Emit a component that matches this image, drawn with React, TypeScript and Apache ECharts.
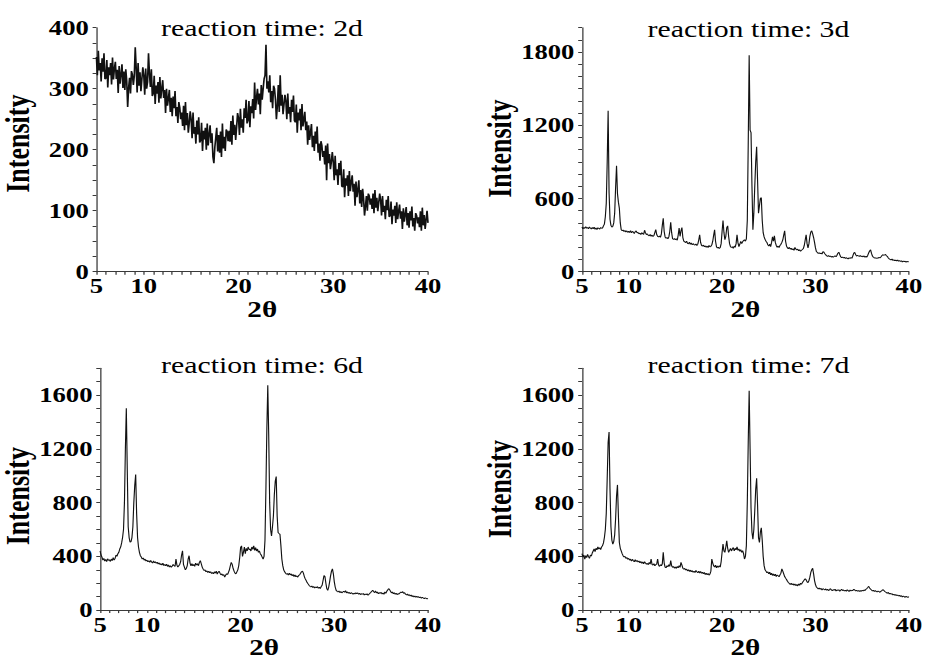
import { useEffect, useRef } from "react";
import * as echarts from "echarts";

// Every pattern is sampled from 2θ = 5.0° to 40.0° in 0.1° steps.
const THETA_START = 5;
const THETA_STEP = 0.1;

const TITLES = ["reaction time: 2d", "reaction time: 3d", "reaction time: 6d", "reaction time: 7d"];
const X_LABELS = [5, 10, 20, 30, 40];
const Y_LABELS = [
  [0, 100, 200, 300, 400],
  [0, 600, 1200, 1800],
  [0, 400, 800, 1200, 1600],
  [0, 400, 800, 1200, 1600],
];
const Y_MAX = [400, 2000, 1800, 1800];
const Y_MINOR_STEP = [25, 100, 100, 100];

// reaction time 2d: amorphous hump with heavy counting noise
const XRD_2D = [
  352, 322, 362, 330, 342, 312, 350, 328, 358, 316,
  317, 347, 302, 335, 322, 342, 307, 351, 315, 333,
  344, 316, 331, 293, 337, 308, 324, 340, 301, 328,
  298, 332, 313, 270, 301, 318, 292, 329, 323, 306,
  321, 368, 334, 294, 342, 305, 327, 296, 316, 335,
  322, 290, 333, 300, 311, 358, 324, 303, 332, 288,
  292, 321, 275, 305, 292, 311, 277, 319, 284, 300,
  314, 285, 298, 260, 300, 272, 284, 298, 262, 285,
  255, 287, 268, 296, 255, 270, 244, 278, 269, 250,
  261, 239, 272, 232, 278, 240, 260, 228, 244, 263,
  250, 219, 261, 226, 237, 210, 248, 225, 253, 212,
  215, 244, 198, 231, 217, 236, 200, 243, 207, 225,
  240, 211, 227, 188, 178, 204, 220, 236, 197, 224,
  195, 230, 188, 243, 202, 221, 198, 233, 230, 214,
  231, 213, 247, 208, 256, 224, 241, 216, 237, 260,
  252, 224, 267, 236, 250, 228, 268, 252, 282, 243,
  248, 280, 237, 271, 260, 283, 251, 310, 265, 285,
  300, 274, 292, 258, 306, 282, 300, 316, 322, 372,
  300, 312, 294, 322, 278, 296, 268, 305, 300, 282,
  250, 272, 306, 262, 322, 272, 290, 258, 274, 290,
  280, 250, 292, 259, 270, 245, 282, 262, 289, 248,
  245, 274, 228, 261, 248, 267, 232, 275, 238, 250,
  262, 232, 246, 208, 240, 216, 228, 242, 204, 223,
  198, 230, 210, 238, 195, 210, 182, 214, 207, 188,
  198, 176, 207, 150, 210, 178, 193, 168, 180, 196,
  180, 150, 190, 158, 168, 142, 178, 158, 182, 140,
  139, 168, 122, 153, 141, 158, 124, 165, 132, 147,
  158, 131, 144, 108, 148, 122, 134, 150, 112, 134,
  106, 136, 120, 92, 107, 124, 100, 128, 124, 110,
  120, 103, 128, 96, 134, 105, 121, 99, 113, 128,
  118, 92, 124, 98, 108, 86, 118, 101, 124, 90,
  92, 115, 78, 102, 92, 108, 80, 114, 86, 99,
  110, 87, 99, 70, 104, 82, 94, 106, 76, 96,
  72, 99, 84, 107, 74, 88, 67, 96, 92, 79,
  89, 73, 99, 67, 105, 76, 93, 70, 85, 100,
  80,
];

// reaction time 3d
const XRD_3D = [
  366, 352, 363, 355, 369, 356, 362, 351, 367, 358,
  350, 363, 352, 365, 348, 359, 345, 360, 356, 349,
  362, 356, 358, 375, 390, 450, 560, 900, 1320, 650,
  430, 380, 365, 372, 400, 480, 690, 868, 640, 570,
  520, 400, 345, 335, 342, 330, 338, 326, 335, 322,
  332, 320, 336, 318, 330, 324, 312, 329, 334, 318,
  322, 310, 316, 305, 320, 312, 306, 340, 318, 304,
  310, 298, 294, 305, 290, 300, 288, 296, 320, 345,
  305, 290, 285, 292, 282, 310, 380, 438, 330, 285,
  275, 280, 270, 285, 330, 405, 320, 270, 265, 272,
  262, 270, 258, 300, 358, 290, 335, 362, 280, 250,
  245, 238, 250, 232, 228, 242, 225, 236, 220, 230,
  222, 218, 228, 215, 226, 260, 302, 240, 215, 210,
  218, 205, 212, 200, 210, 198, 215, 204, 208, 220,
  250, 300, 343, 250, 205, 195, 200, 190, 198, 230,
  330, 419, 320, 262, 290, 360, 376, 290, 230, 205,
  198, 205, 192, 210, 200, 230, 302, 238, 205, 225,
  248, 230, 245, 255, 262, 250, 270, 420, 1050, 1775,
  1160, 1140, 700, 343, 480, 700, 900, 1024, 750, 479,
  540, 600, 607, 420, 320, 285, 265, 250, 240, 220,
  210, 225, 205, 240, 285, 250, 294, 240, 215, 200,
  210, 198, 215, 225, 240, 260, 300, 335, 250, 210,
  195, 188, 200, 185, 192, 180, 188, 175, 200, 185,
  178, 185, 172, 180, 168, 176, 182, 190, 215, 260,
  302, 230, 195, 230, 290, 325, 335, 310, 280, 240,
  195, 165, 158, 150, 155, 148, 152, 145, 165, 160,
  148, 138, 130, 126, 132, 124, 128, 120, 126, 118,
  125, 130, 122, 135, 152, 160, 140, 122, 115, 120,
  112, 118, 108, 115, 110, 105, 114, 108, 116, 110,
  130, 152, 158, 140, 128, 135, 130, 126, 132, 124,
  128, 122, 130, 118, 126, 120, 135, 155, 170, 180,
  150, 128, 118, 112, 115, 108, 114, 110, 118, 112,
  120, 130, 140, 135, 138, 142, 130, 126, 112, 105,
  100, 96, 104, 92, 98, 90, 95, 88, 96, 86,
  92, 84, 90, 80, 88, 82, 86, 78, 85, 80,
  82,
];

// reaction time 6d
const XRD_6D = [
  440, 410, 395, 372, 385, 365, 378, 360, 382, 370,
  375, 362, 380, 368, 390, 372, 385, 410, 400, 420,
  430, 455, 470, 500, 540, 600, 800, 1200, 1502, 1050,
  620, 540, 505, 510, 540, 620, 800, 930, 1010, 720,
  540, 470, 430, 405, 395, 380, 388, 372, 380, 365,
  372, 360, 368, 355, 370, 358, 350, 366, 352, 360,
  348, 356, 342, 352, 338, 346, 335, 350, 332, 340,
  330, 342, 325, 336, 320, 330, 318, 328, 340, 330,
  325, 380, 335, 320, 330, 340, 360, 410, 442, 340,
  320, 300, 310, 330, 380, 405, 350, 330, 345, 330,
  340, 325, 350, 335, 345, 330, 355, 368, 345, 320,
  305, 295, 300, 285, 292, 280, 290, 278, 286, 272,
  280, 270, 285, 275, 290, 268, 282, 290, 275, 262,
  270, 258, 265, 245, 260, 270, 265, 280, 300, 330,
  356, 340, 310, 290, 275, 270, 285, 300, 330, 390,
  466, 478, 400, 430, 470, 420, 460, 440, 470, 450,
  455, 440, 470, 452, 478, 445, 465, 440, 455, 430,
  440, 420, 410, 395, 380, 400, 520, 900, 1350, 1673,
  1300, 800, 600, 552, 620, 700, 860, 960, 994, 700,
  577, 570, 564, 480, 380, 331, 300, 285, 275, 268,
  272, 260, 275, 262, 270, 255, 265, 250, 262, 248,
  255, 245, 258, 262, 275, 285, 290, 275, 250, 232,
  220, 205, 195, 185, 178, 172, 180, 168, 176, 165,
  172, 166, 175, 162, 170, 160, 175, 185, 220, 258,
  250, 200, 160, 147, 170, 210, 255, 290, 307, 270,
  210, 170, 147, 140, 135, 142, 130, 138, 128, 135,
  140, 132, 145, 128, 136, 125, 132, 122, 130, 125,
  118, 126, 120, 130, 122, 128, 118, 125, 115, 122,
  118, 124, 112, 120, 115, 122, 110, 118, 125, 132,
  140, 147, 138, 130, 142, 128, 135, 122, 130, 125,
  132, 120, 128, 118, 135, 125, 140, 150, 160, 152,
  140, 128, 135, 122, 130, 118, 126, 115, 122, 120,
  128, 135, 130, 138, 125, 130, 118, 112, 120, 108,
  115, 105, 112, 100, 108, 98, 105, 96, 102, 95,
  100, 92, 98, 88, 95, 90, 85, 92, 88, 84,
  86,
];

// reaction time 7d
const XRD_7D = [
  420, 395, 410, 380, 405, 390, 415, 398, 385, 410,
  402, 425, 440, 455, 435, 460, 448, 470, 455, 465,
  450, 470, 480, 500, 540, 600, 720, 980, 1250, 1325,
  900, 620, 520, 491, 510, 560, 680, 850, 932, 700,
  503, 460, 440, 420, 405, 395, 400, 385, 392, 378,
  385, 372, 380, 365, 378, 368, 360, 375, 362, 370,
  358, 366, 352, 362, 348, 358, 345, 360, 350, 342,
  348, 338, 355, 342, 380, 340, 335, 345, 330, 338,
  342, 380, 335, 325, 338, 330, 345, 430, 350, 320,
  315, 330, 322, 338, 325, 368, 330, 318, 325, 312,
  322, 310, 325, 315, 330, 318, 356, 335, 312, 305,
  310, 298, 305, 292, 300, 288, 298, 285, 294, 282,
  290, 280, 295, 285, 278, 290, 276, 288, 274, 282,
  270, 280, 265, 275, 262, 272, 260, 268, 290, 380,
  350, 330, 320, 335, 315, 328, 318, 330, 320, 360,
  430, 491, 440, 430, 470, 515, 460, 430, 445, 460,
  440, 455, 466, 440, 460, 448, 470, 445, 455, 438,
  450, 430, 442, 420, 380, 400, 480, 800, 1250, 1632,
  1200, 760, 580, 528, 600, 740, 900, 982, 780, 540,
  503, 580, 613, 520, 400, 331, 300, 290, 278, 285,
  270, 282, 262, 275, 258, 270, 255, 268, 250, 262,
  255, 248, 262, 275, 307, 290, 270, 250, 238, 228,
  215, 205, 198, 190, 200, 188, 196, 185, 195, 182,
  190, 180, 195, 185, 200, 192, 205, 215, 225, 233,
  225, 210, 205, 220, 245, 280, 300, 312, 270, 220,
  190, 172, 165, 158, 165, 155, 162, 150, 160, 155,
  150, 158, 148, 155, 145, 152, 160, 150, 145, 152,
  148, 155, 142, 150, 146, 152, 140, 148, 155, 145,
  150, 142, 148, 140, 152, 145, 138, 150, 142, 148,
  145, 155, 150, 142, 148, 140, 146, 138, 145, 140,
  148, 142, 150, 145, 155, 160, 168, 177, 165, 155,
  150, 142, 148, 138, 145, 140, 135, 142, 138, 132,
  140, 145, 152, 148, 140, 135, 130, 125, 132, 120,
  125, 118, 122, 112, 118, 110, 115, 108, 112, 105,
  110, 102, 108, 98, 105, 100, 95, 102, 98, 94,
  100,
];

const PATTERNS = [XRD_2D, XRD_3D, XRD_6D, XRD_7D];

// The figure is laid out on a narrower canvas and widened horizontally,
// which gives the serif lettering its broad, stretched look.
const BASE_WIDTH = 730;
const HEIGHT = 660;
const STRETCH = 926 / BASE_WIDTH;
const FONT = "Liberation Serif";
const AXIS_COLOR = "#3a3a3a";

const GRIDS = [
  { left: 75.7, top: 27.7, width: 261.7, height: 244 },
  { left: 458.8, top: 27.7, width: 262.5, height: 244 },
  { left: 75.7, top: 368.3, width: 261.7, height: 244.4 },
  { left: 458.8, top: 368.3, width: 262.5, height: 244.4 },
];
const TITLE_Y = [28.4, 28.8, 365.4, 365.4];
// shifts the "Intensity" caption along the axis (positive moves it up)
const NAME_SHIFT = [12, 2, -14, 0];

const steps = (from: number, to: number, step: number) => {
  const out: number[] = [];
  for (let v = from; v <= to + 1e-9; v += step) out.push(+v.toFixed(3));
  return out;
};

const toPoints = (values: number[]) =>
  values.map((v, i) => [+(THETA_START + i * THETA_STEP).toFixed(1), v]);

const plain = (v: number) => String(v);

function buildOption(): echarts.EChartsOption {
  const labelStyle = {
    fontFamily: FONT,
    fontWeight: "bold" as const,
    fontSize: 21,
    color: "#000",
    formatter: plain,
  };
  const xTicks = steps(5, 40, 1);

  return {
    animation: false,
    backgroundColor: "#fff",
    textStyle: { fontFamily: FONT },
    grid: GRIDS.map((g) => ({ ...g, containLabel: false })),
    xAxis: GRIDS.map((_, i) => ({
      type: "value",
      gridIndex: i,
      min: 5,
      max: 40,
      name: "2θ",
      nameLocation: "middle",
      nameGap: 21,
      nameTextStyle: { fontFamily: FONT, fontWeight: "bold", fontSize: 23, color: "#000" },
      axisLine: { show: true, lineStyle: { color: AXIS_COLOR, width: 1 } },
      axisTick: {
        show: true,
        inside: false,
        length: 3,
        customValues: xTicks,
        lineStyle: { color: AXIS_COLOR, width: 1 },
      },
      axisLabel: { ...labelStyle, margin: 4, customValues: X_LABELS },
      splitLine: { show: false },
    })),
    yAxis: GRIDS.map((_, i) => ({
      type: "value",
      gridIndex: i,
      min: 0,
      max: Y_MAX[i],
      name: "Intensity",
      nameLocation: "middle",
      nameGap: 49,
      nameTextStyle: {
        fontFamily: FONT,
        fontWeight: "bold",
        fontSize: 26,
        color: "#000",
        padding: NAME_SHIFT[i] >= 0 ? [0, 0, 0, NAME_SHIFT[i]] : [0, -NAME_SHIFT[i], 0, 0],
      },
      axisLine: { show: true, lineStyle: { color: AXIS_COLOR, width: 1 } },
      axisTick: {
        show: true,
        inside: false,
        length: 3,
        customValues: steps(0, Y_MAX[i], Y_MINOR_STEP[i]),
        lineStyle: { color: AXIS_COLOR, width: 1 },
      },
      axisLabel: { ...labelStyle, margin: 6, customValues: Y_LABELS[i] },
      splitLine: { show: false },
    })),
    series: PATTERNS.map((values, i) => ({
      type: "line",
      name: TITLES[i],
      xAxisIndex: i,
      yAxisIndex: i,
      data: toPoints(values),
      showSymbol: false,
      silent: true,
      lineStyle: { color: "#111", width: i === 0 ? 1.3 : 0.9 },
    })),
    graphic: TITLES.map((text, i) => ({
      type: "text",
      x: GRIDS[i].left + GRIDS[i].width / 2,
      y: TITLE_Y[i],
      silent: true,
      style: {
        text,
        fill: "#000",
        font: `normal 23.5px ${FONT}`,
        align: "center",
        verticalAlign: "middle",
        textAlign: "center",
        textVerticalAlign: "middle",
      } as any,
    })),
  };
}

export default function App() {
  const ref = useRef<HTMLDivElement>(null);

  useEffect(() => {
    if (!ref.current) return;
    const chart = echarts.init(ref.current, null, { renderer: "svg" });
    chart.setOption(buildOption());
    return () => chart.dispose();
  }, []);

  return (
    <div
      ref={ref}
      style={{
        position: "absolute",
        left: 0,
        top: 0,
        width: BASE_WIDTH,
        height: HEIGHT,
        background: "#fff",
        transform: `scaleX(${STRETCH})`,
        transformOrigin: "0 0",
      }}
    />
  );
}
